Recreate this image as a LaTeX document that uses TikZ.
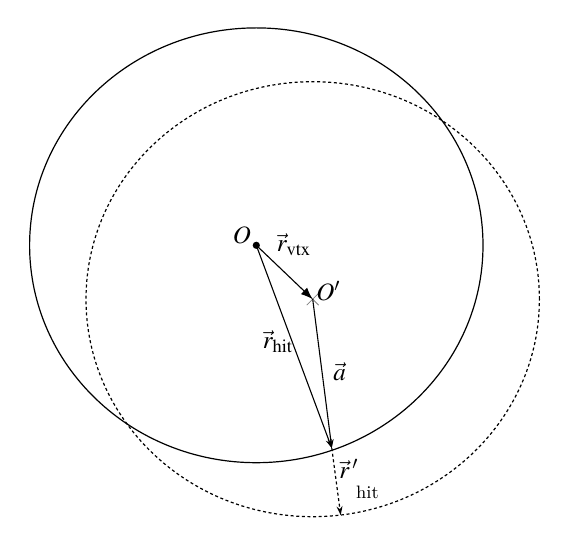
\documentclass[tikz,border=0pt]{standalone}
\usepackage{mathptmx}
\usetikzlibrary{arrows.meta}
\tikzset{
  vecline/.style={-{Stealth[length=4.5pt,width=3pt]},line width=0.55pt},
  shiftline/.style={-{Latex[length=6pt,width=4.5pt]},line width=0.55pt},
  dotline/.style={line width=0.6pt,dash pattern=on 1.5pt off 1.3pt},
  lbl/.style={font=\fontsize{12.5}{15}\selectfont,inner sep=0pt}
}
\begin{document}
\begin{tikzpicture}[x=0.5pt,y=-0.5pt]
\useasboundingbox (0,0) rectangle (568,544);
\coordinate (O) at (256.3,245.3);
\coordinate (Op) at (312.7,299.2);
\coordinate (hit) at (331.8,448.2);
\coordinate (hitp) at (340.7,515.2);
\draw[line width=0.6pt] (O) ellipse (113.35pt and 108.7pt);
\draw[dotline] (Op) ellipse (113.35pt and 108.75pt);
\fill (O) circle (1.8pt);
\draw[gray,line width=0.4pt] (Op) +(-6,-6) -- +(6,6) (Op) +(-6,6) -- +(6,-6);
\draw[shiftline] (O) -- (Op);
\draw[vecline] (O) -- (hit);
\draw[vecline] (Op) -- (hit);
\draw[vecline,dotline] (hit) -- (hitp);
% labels
\node[lbl] (lO) at (242,235) {$O$};
\node[lbl] (lOp) at (328.5,291.5) {$O'$};
\node[lbl] (lvtx) at (294,245) {$\vec{r}_{\rm vtx}$};
\node[lbl] (lhit) at (278,342) {$\vec{r}_{\rm hit}$};
\node[lbl] (la) at (339.5,372) {$\vec{a}$};
\node[lbl] (lhitp) at (349,469) {$\vec{r}\,'$};
\node[lbl] (lhitsub) at (367.5,492) {\small hit};
\end{tikzpicture}
\end{document}
